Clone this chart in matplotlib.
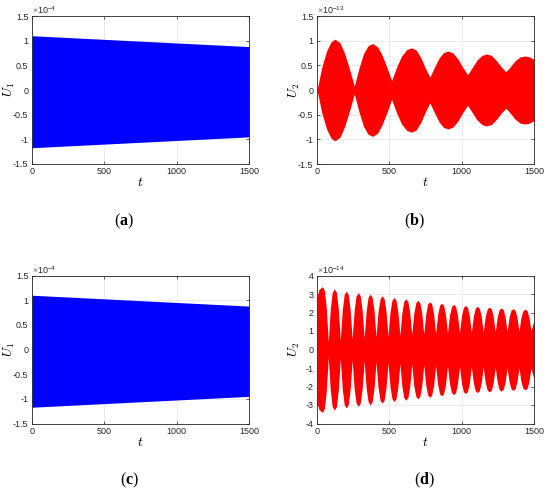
import matplotlib
matplotlib.use('Agg')
import numpy as np
import matplotlib.pyplot as plt
from matplotlib.ticker import FuncFormatter

plt.rcParams['axes.unicode_minus'] = False
plt.rcParams['mathtext.fontset'] = 'custom'
plt.rcParams['mathtext.rm'] = 'Liberation Serif'
plt.rcParams['mathtext.bf'] = 'Liberation Serif:bold'

# (a), (c): U1 envelope (upper / lower edge of the dense blue band)
t_u1 = [0, 750, 1500]
u1_upper = [1.10e-4, 0.99e-4, 0.88e-4]
u1_lower = [-1.17e-4, -1.06e-4, -0.95e-4]

# (b): U2 upper envelope (lower edge is its mirror)
t_b = [0, 33, 66, 98, 124, 158, 191, 225, 258, 290, 322, 354, 385, 418, 451,
       484, 516, 551, 585, 620, 654, 685, 717, 748, 780, 812, 844, 875, 907,
       940, 974, 1007, 1041, 1074, 1107, 1140, 1172, 1206, 1239, 1273, 1306,
       1339, 1372, 1404, 1437, 1470, 1500]
u2b_upper = [0.0, 0.46, 0.79, 0.98, 1.03, 0.96, 0.74, 0.42, 0.08, 0.44, 0.74,
             0.90, 0.94, 0.88, 0.70, 0.45, 0.19, 0.47, 0.69, 0.82, 0.855, 0.81,
             0.66, 0.45, 0.26, 0.46, 0.65, 0.76, 0.79, 0.75, 0.63, 0.46, 0.31,
             0.46, 0.61, 0.70, 0.73, 0.70, 0.60, 0.47, 0.37, 0.48, 0.60, 0.67,
             0.69, 0.67, 0.62]

# (d): U2 upper envelope, 18 beats (lower edge is its mirror)
t_d = [0, 14, 37, 51, 64, 78, 92, 105, 120, 134, 147, 161, 175, 188, 202, 216,
       229, 243, 257, 270, 285, 299, 312, 326, 340, 353, 367, 381, 394, 408,
       422, 436, 450, 464, 477, 491, 505, 518, 532, 546, 559, 573, 587, 600,
       614, 628, 641, 655, 669, 683, 697, 711, 724, 738, 752, 765, 779, 793,
       806, 820, 834, 847, 861, 875, 888, 902, 916, 930, 944, 958, 971, 985,
       999, 1012, 1026, 1040, 1053, 1067, 1081, 1094, 1108, 1122, 1135, 1149,
       1163, 1177, 1191, 1205, 1218, 1232, 1246, 1259, 1273, 1287, 1300, 1314,
       1328, 1341, 1355, 1369, 1382, 1396, 1410, 1424, 1438, 1452, 1465, 1479,
       1500]
u2d_upper = [2.85, 3.25, 3.40, 3.19, 2.27, 0.42, 2.19, 3.08, 3.28, 3.09, 2.22,
             0.50, 2.15, 2.97, 3.16, 2.98, 2.17, 0.56, 2.12, 2.89, 3.07, 2.90,
             2.14, 0.62, 2.09, 2.82, 2.99, 2.83, 2.11, 0.67, 2.05, 2.74, 2.90,
             2.75, 2.07, 0.72, 2.02, 2.66, 2.81, 2.67, 2.03, 0.76, 1.99, 2.60,
             2.74, 2.60, 2.00, 0.80, 1.95, 2.53, 2.66, 2.53, 1.96, 0.83, 1.92,
             2.46, 2.58, 2.46, 1.93, 0.86, 1.88, 2.39, 2.50, 2.39, 1.89, 0.89,
             1.85, 2.33, 2.44, 2.33, 1.86, 0.91, 1.82, 2.28, 2.38, 2.28, 1.83,
             0.93, 1.80, 2.23, 2.33, 2.23, 1.81, 0.95, 1.78, 2.20, 2.29, 2.20,
             1.79, 0.97, 1.76, 2.16, 2.25, 2.16, 1.77, 0.99, 1.75, 2.12, 2.21,
             2.13, 1.75, 1.00, 1.73, 2.10, 2.18, 2.10, 1.74, 1.02, 1.60]

x_ticks = [0, 500, 1000, 1500]
dark = '#262626'


def style_axes(ax, ylim, yticks, scale, exp_label, ylabel):
    ax.set_xlim(0, 1500)
    ax.set_ylim(*ylim)
    ax.set_xticks(x_ticks)
    ax.set_yticks(yticks)
    ax.yaxis.set_major_formatter(FuncFormatter(lambda v, p: '%g' % round(v / scale, 6)))
    ax.tick_params(direction='in', top=True, right=True, length=2.5, width=0.5,
                   labelsize=6.5, colors=dark, pad=2.5)
    for lab in ax.get_xticklabels() + ax.get_yticklabels():
        lab.set_fontfamily('Liberation Sans')
    for sp in ax.spines.values():
        sp.set_color(dark)
        sp.set_linewidth(0.6)
    ax.grid(True, color='#e3e3e3', linewidth=0.5)
    ax.set_axisbelow(True)
    ax.text(0.0, 1.0, r'$\times\mathregular{10^{%s}}$' % exp_label, transform=ax.transAxes,
            ha='left', va='bottom', fontsize=6.5, color=dark, family='Liberation Sans')
    ax.set_xlabel(r'$t$', fontsize=10, math_fontfamily='cm')
    ax.set_ylabel(ylabel, fontsize=9.5, math_fontfamily='cm')
    ax.xaxis.set_label_coords(0.5, -0.075)
    ax.yaxis.set_label_coords(-0.07, 0.5)


fig = plt.figure(figsize=(5.5, 4.92), dpi=100)

w = 217 / 550
h = 148 / 492
ax_a = fig.add_axes([32 / 550, 1 - 164 / 492, w, h])
ax_b = fig.add_axes([317 / 550, 1 - 164 / 492, w, h])
ax_c = fig.add_axes([32 / 550, 1 - 423.5 / 492, w, h])
ax_d = fig.add_axes([317 / 550, 1 - 423.5 / 492, w, h])

u1_ticks = [-1.5e-4, -1e-4, -0.5e-4, 0, 0.5e-4, 1e-4, 1.5e-4]
for ax in (ax_a, ax_c):
    ax.fill_between(t_u1, u1_lower, u1_upper, color='#0000ff', lw=0)
    style_axes(ax, (-1.5e-4, 1.5e-4), u1_ticks, 1e-4, '-4', r'$U_1$')

ub = np.array(u2b_upper) * 1e-13
ax_b.fill_between(t_b, -ub, ub, color='#ff0000', lw=0)
style_axes(ax_b, (-1.5e-13, 1.5e-13), [-1.5e-13, -1e-13, -0.5e-13, 0, 0.5e-13, 1e-13, 1.5e-13],
           1e-13, '-13', r'$U_2$')

ud = np.array(u2d_upper) * 1e-14
ax_d.fill_between(t_d, -ud, ud, color='#ff0000', lw=0)
style_axes(ax_d, (-4e-14, 4e-14), [k * 1e-14 for k in range(-4, 5)],
           1e-14, '-14', r'$U_2$')

# panel captions
for lab, x, y in [('a', 124, 221), ('b', 414, 221), ('c', 130, 480), ('d', 424, 480)]:
    fig.text(x / 550, 1 - y / 492, r'$\mathrm{(}\mathbf{%s}\mathrm{)}$' % lab,
             ha='center', va='center', fontsize=11.5, color='black')

plt.savefig('out.png', dpi=100)
plt.close()
